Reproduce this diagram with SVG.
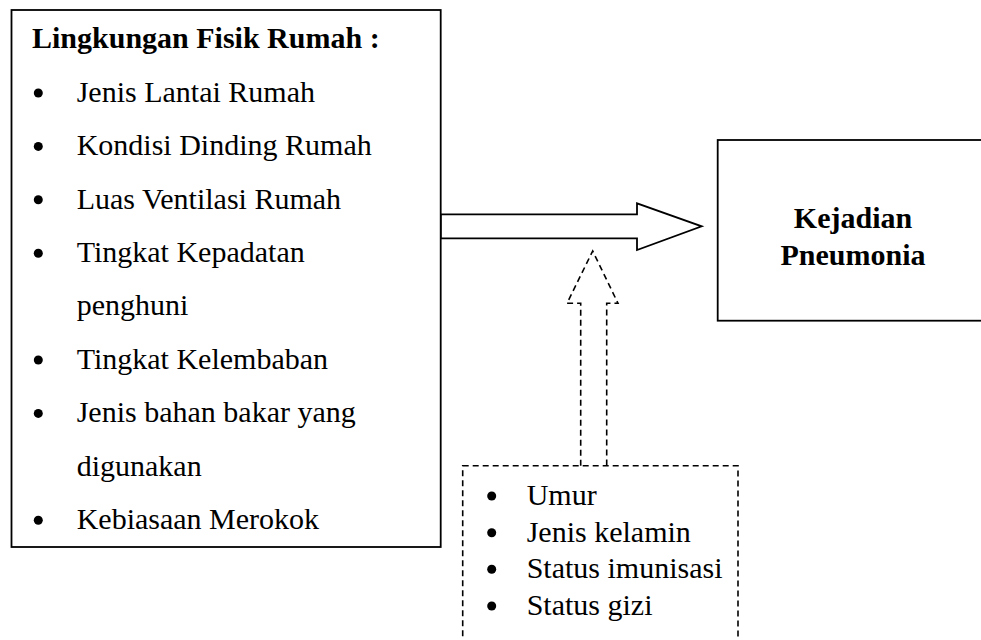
<svg xmlns="http://www.w3.org/2000/svg" width="981" height="640" viewBox="0 0 981 640">
<style>
.box{fill:#fff;stroke:#000;stroke-width:1.8}
.dash{fill:none;stroke:#000;stroke-width:1.6;stroke-dasharray:6 4}
.t{font-family:"Liberation Serif","Times New Roman",serif;font-size:30px;fill:#000}
.b{font-weight:bold}
.bul{fill:#000}
</style>
<rect width="981" height="640" fill="#fff"/>
<g id="connectors">
<polygon class="box" points="440.7,214.3 637,214.3 637,203.3 701.7,226.3 637,250 637,238.3 440.7,238.3"/>
<polyline class="dash" points="580.7,465.7 580.7,303.3 567,303.3 592.7,251 618,303.3 606.7,303.3 606.7,465.7"/>
</g>
<g id="node-lingkungan">
<rect class="box" x="11.5" y="10" width="429.2" height="537"/>
<text class="t b" x="32" y="48.3">Lingkungan Fisik Rumah :</text>
<g class="bul">
<circle cx="38.3" cy="93" r="4.5"/>
<circle cx="38.3" cy="146.4" r="4.5"/>
<circle cx="38.3" cy="199.8" r="4.5"/>
<circle cx="38.3" cy="253.2" r="4.5"/>
<circle cx="38.3" cy="360" r="4.5"/>
<circle cx="38.3" cy="413.4" r="4.5"/>
<circle cx="38.3" cy="520.2" r="4.5"/>
</g>
<text class="t" x="76.7" y="101.7">Jenis Lantai Rumah</text>
<text class="t" x="76.7" y="155.1">Kondisi Dinding Rumah</text>
<text class="t" x="76.7" y="208.5">Luas Ventilasi Rumah</text>
<text class="t" x="76.7" y="261.9">Tingkat Kepadatan</text>
<text class="t" x="76.7" y="315.3">penghuni</text>
<text class="t" x="76.7" y="368.7">Tingkat Kelembaban</text>
<text class="t" x="76.7" y="422.1">Jenis bahan bakar yang</text>
<text class="t" x="76.7" y="475.5">digunakan</text>
<text class="t" x="76.7" y="528.9">Kebiasaan Merokok</text>
</g>
<g id="node-kejadian">
<rect class="box" x="717.7" y="140" width="272" height="180.7"/>
<text class="t b" x="853" y="228" text-anchor="middle">Kejadian</text>
<text class="t b" x="853" y="265" text-anchor="middle">Pneumonia</text>
</g>
<g id="node-faktor">
<rect class="dash" x="462.7" y="465.7" width="275.3" height="190"/>
<g class="bul">
<circle cx="491.7" cy="496" r="4.5"/>
<circle cx="491.7" cy="532.7" r="4.5"/>
<circle cx="491.7" cy="569.3" r="4.5"/>
<circle cx="491.7" cy="606" r="4.5"/>
</g>
<text class="t" x="526.7" y="505">Umur</text>
<text class="t" x="526.7" y="541.7">Jenis kelamin</text>
<text class="t" x="526.7" y="578.3">Status imunisasi</text>
<text class="t" x="526.7" y="615">Status gizi</text>
</g>
</svg>
